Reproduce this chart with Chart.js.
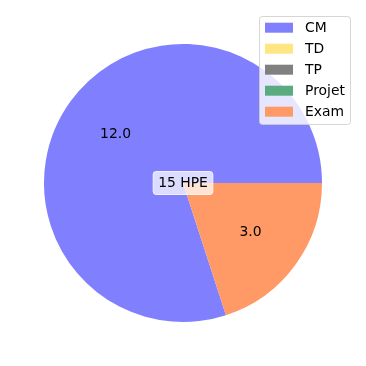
<!DOCTYPE html>
<html>
<head>
<meta charset="utf-8">
<script src="https://cdn.jsdelivr.net/npm/chart.js@4"></script>
<style>
  html, body { margin: 0; padding: 0; background: #ffffff; }
  #wrap { width: 366px; height: 366px; }
</style>
</head>
<body>
<div id="wrap"><canvas id="pie" width="366" height="366"></canvas></div>
<script>
// Categories and hours per category
const categories = ["CM", "TD", "TP", "Projet", "Exam"];
const hours = [12, 0, 0, 0, 3];
const sliceColors = ["#8080ff", "#ffe680", "#808080", "#5aab80", "#ff9966"];
const centerText = "15 HPE";

const FONT = "13.9px 'DejaVu Sans'";

// Value labels inside slices (like matplotlib autopct, pctdistance 0.6)
const sliceLabels = {
  id: "sliceLabels",
  afterDatasetsDraw(chart) {
    const ctx = chart.ctx;
    const meta = chart.getDatasetMeta(0);
    ctx.save();
    ctx.font = FONT;
    ctx.fillStyle = "#000000";
    ctx.textAlign = "center";
    ctx.textBaseline = "middle";
    meta.data.forEach((arc, i) => {
      if (!hours[i]) return;
      const p = arc.getProps(["x", "y", "startAngle", "endAngle", "outerRadius"], true);
      const mid = (p.startAngle + p.endAngle) / 2;
      const r = p.outerRadius * 0.6;
      ctx.fillText(hours[i].toFixed(1), p.x + Math.cos(mid) * r, p.y + Math.sin(mid) * r);
    });

    // total in the middle, in a rounded white box
    const c = meta.data[0];
    const tw = ctx.measureText(centerText).width;
    const bw = tw + 10, bh = 23;
    const bx = c.x - bw / 2, by = c.y - bh / 2;
    ctx.beginPath();
    ctx.roundRect(bx, by, bw, bh, 3);
    ctx.fillStyle = "rgba(255,255,255,0.72)";
    ctx.fill();
    ctx.strokeStyle = "rgba(255,255,255,0.8)";
    ctx.lineWidth = 1;
    ctx.stroke();
    ctx.fillStyle = "#000000";
    ctx.fillText(centerText, c.x, c.y + 0.5);
    ctx.restore();
  }
};

// matplotlib-like legend box at the top right
const boxLegend = {
  id: "boxLegend",
  afterDraw(chart) {
    const ctx = chart.ctx;
    const x0 = 259.5, y0 = 16.5, w = 91, h = 108;
    ctx.save();
    ctx.beginPath();
    ctx.roundRect(x0, y0, w, h, 3);
    ctx.fillStyle = "rgba(255,255,255,0.8)";
    ctx.fill();
    ctx.strokeStyle = "rgba(204,204,204,0.8)";
    ctx.lineWidth = 1;
    ctx.stroke();
    ctx.font = FONT;
    ctx.textBaseline = "middle";
    ctx.textAlign = "left";
    chart.data.labels.forEach((lab, i) => {
      const cy = 27.7 + i * 21;
      ctx.fillStyle = chart.data.datasets[0].backgroundColor[i];
      ctx.fillRect(265, cy - 5, 28, 10);
      ctx.fillStyle = "#000000";
      ctx.fillText(lab, 305, cy + 0.5);
    });
    ctx.restore();
  }
};

new Chart(document.getElementById("pie"), {
  type: "pie",
  plugins: [sliceLabels, boxLegend],
  data: {
    labels: categories,
    datasets: [{
      data: hours,
      backgroundColor: sliceColors,
      borderWidth: 0,
      hoverOffset: 0
    }]
  },
  options: {
    responsive: false,
    animation: false,
    rotation: 162,
    layout: { padding: 44 },
    plugins: {
      legend: { display: false },
      tooltip: { enabled: false }
    }
  }
});
</script>
</body>
</html>
